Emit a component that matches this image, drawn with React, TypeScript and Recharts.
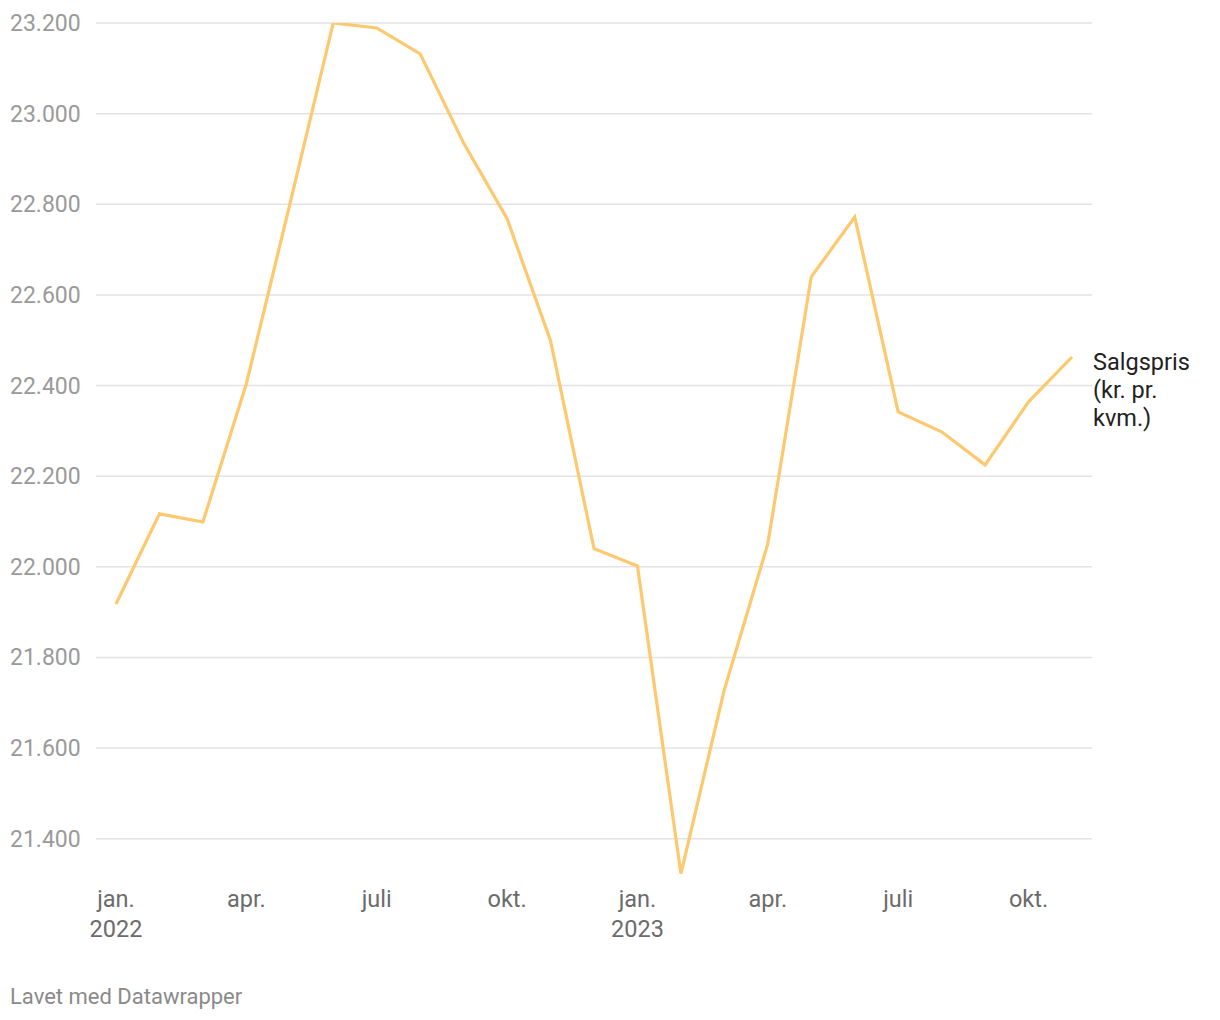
import React from 'react';
import { LineChart, Line, XAxis, YAxis, ReferenceLine } from 'recharts';

const months = [
  '2022-01', '2022-02', '2022-03', '2022-04', '2022-05', '2022-06',
  '2022-07', '2022-08', '2022-09', '2022-10', '2022-11', '2022-12',
  '2023-01', '2023-02', '2023-03', '2023-04', '2023-05', '2023-06',
  '2023-07', '2023-08', '2023-09', '2023-10', '2023-11',
];

const salgspris = [
  21918, 22117, 22099, 22404, 22800, 23200,
  23189, 23132, 22935, 22768, 22499, 22040,
  22002, 21323, 21729, 22051, 22640, 22772,
  22342, 22298, 22225, 22364, 22463,
];

const xTicks = ['2022-01', '2022-04', '2022-07', '2022-10', '2023-01', '2023-04', '2023-07', '2023-10'];
const monthNames: Record<string, string> = { '01': 'jan.', '04': 'apr.', '07': 'juli', '10': 'okt.' };
const yTicks = [21400, 21600, 21800, 22000, 22200, 22400, 22600, 22800, 23000, 23200];

const seriesLabel = ['Salgspris', '(kr. pr.', 'kvm.)'];

const data = months.map((m, i) => ({ month: m, value: salgspris[i] }));

const FONT = 'Roboto, "Noto Sans", sans-serif';

const fmt = (v: number) => v.toLocaleString('de-DE');

function YTick(props: any) {
  const { y, payload } = props;
  return (
    <text x={2} y={y} dy={8} fill="#9a9a9a" fontSize={23} fontFamily={FONT} textAnchor="start">
      {fmt(payload.value)}
    </text>
  );
}

function XTick(props: any) {
  const { x, y, payload } = props;
  const [year, mm] = String(payload.value).split('-');
  return (
    <g>
      <text x={x} y={y} dy={24} fill="#6b6b6b" fontSize={23.5} fontFamily={FONT} textAnchor="middle">
        {monthNames[mm]}
      </text>
      {mm === '01' && (
        <text x={x} y={y} dy={54} fill="#6b6b6b" fontSize={23.5} fontFamily={FONT} textAnchor="middle">
          {year}
        </text>
      )}
    </g>
  );
}

function EndLabel(props: any) {
  const { x, y, index } = props;
  if (index !== data.length - 1) return null;
  return (
    <text x={x + 21} y={y} fill="#222" fontSize={23.5} fontFamily={FONT}>
      {seriesLabel.map((s, i) => (
        <tspan key={i} x={x + 21} dy={i === 0 ? 13 : 28}>{s}</tspan>
      ))}
    </text>
  );
}

export default function App() {
  return (
    <div style={{ position: 'relative', width: 1200, height: 1004, fontFamily: FONT }}>
      <LineChart
        width={1200}
        height={960}
        data={data}
        margin={{ top: 15, right: 116, bottom: 0, left: 0 }}
      >
        {yTicks.map((t) => (
          <ReferenceLine key={t} y={t} stroke="#e3e3e3" strokeWidth={1.5} />
        ))}
        <XAxis
          dataKey="month"
          ticks={xTicks}
          tick={<XTick />}
          tickLine={false}
          axisLine={false}
          interval={0}
          padding={{ left: 20, right: 20 }}
          height={93}
        />
        <YAxis
          domain={[21320, 23200]}
          ticks={yTicks}
          tick={<YTick />}
          tickLine={false}
          axisLine={false}
          width={88}
          allowDataOverflow
        />
        <Line
          type="linear"
          dataKey="value"
          stroke="#fdc86e"
          strokeWidth={3.2}
          dot={false}
          isAnimationActive={false}
          label={<EndLabel />}
        />
      </LineChart>
      <div style={{ position: 'absolute', left: 2, top: 976, fontSize: 22, color: '#8a8a8a' }}>
        Lavet med Datawrapper
      </div>
    </div>
  );
}
